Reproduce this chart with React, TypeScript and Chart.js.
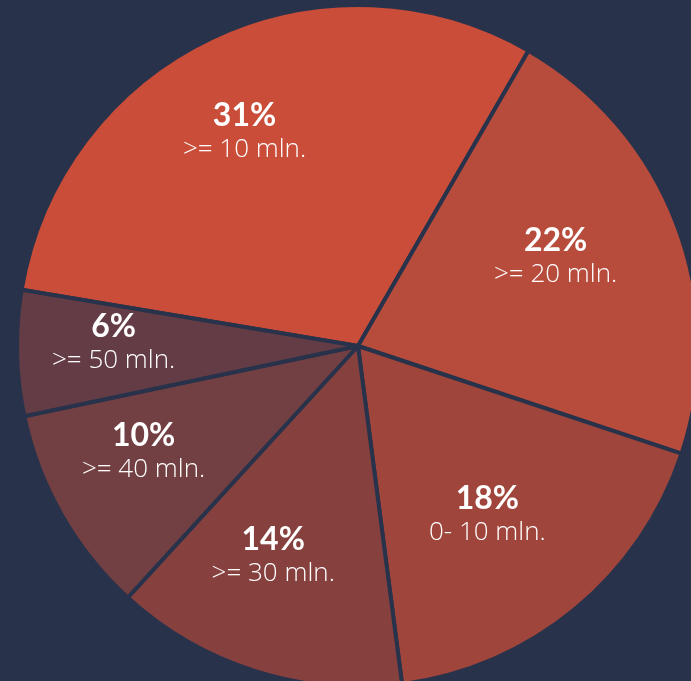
import React, { useEffect, useRef } from "react";
import { Chart, registerables } from "chart.js";

Chart.register(...registerables);

const categories = [">= 10 mln.", ">= 20 mln.", "0- 10 mln.", ">= 30 mln.", ">= 40 mln.", ">= 50 mln."];
const shares = [31, 22, 18, 14, 10, 6];
const sliceColors = ["#c94d39", "#b74c3c", "#a0453b", "#86413f", "#723f42", "#633c46"];
const BG = "#28334b";

const labelPlugin = {
  id: "sliceLabels",
  afterDatasetsDraw(chart: any) {
    const ctx = chart.ctx;
    const meta = chart.getDatasetMeta(0);
    meta.data.forEach((arc: any, i: number) => {
      const { x, y, startAngle, endAngle, outerRadius } = arc.getProps(["x", "y", "startAngle", "endAngle", "outerRadius"], true);
      const mid = (startAngle + endAngle) / 2;
      const r = outerRadius * 0.67;
      // label anchor sits slightly up-left of the pie centre
      const cx = x - 16 + Math.cos(mid) * r;
      const cy = y - 7 + Math.sin(mid) * r;
      ctx.save();
      ctx.fillStyle = "#ffffff";
      ctx.textAlign = "center";
      ctx.textBaseline = "middle";
      ctx.font = "bold 32px Lato";
      ctx.fillText(shares[i] + "%", cx, cy - 17);
      ctx.font = "300 26px 'Open Sans'";
      ctx.fillText(categories[i], cx, cy + 17);
      ctx.restore();
    });
  },
};

export default function App() {
  const ref = useRef<HTMLCanvasElement | null>(null);
  useEffect(() => {
    if (!ref.current) return;
    const chart = new Chart(ref.current, {
      type: "pie",
      data: {
        labels: categories,
        datasets: [
          {
            data: shares,
            backgroundColor: sliceColors,
            borderColor: BG,
            borderWidth: 4,
            hoverOffset: 0,
            radius: 341,
          } as any,
        ],
      },
      options: {
        responsive: false,
        animation: false,
        rotation: -80.5,
        layout: { padding: 0 },
        plugins: { legend: { display: false }, tooltip: { enabled: false } },
      },
      plugins: [labelPlugin],
    });
    return () => chart.destroy();
  }, []);
  return (
    <div style={{ position: "fixed", left: 0, top: 0, width: 691, height: 681, overflow: "hidden", background: BG }}>
      <canvas ref={ref} width={720} height={720} style={{ position: "absolute", left: -2, top: -14, width: 720, height: 720 }} />
    </div>
  );
}
